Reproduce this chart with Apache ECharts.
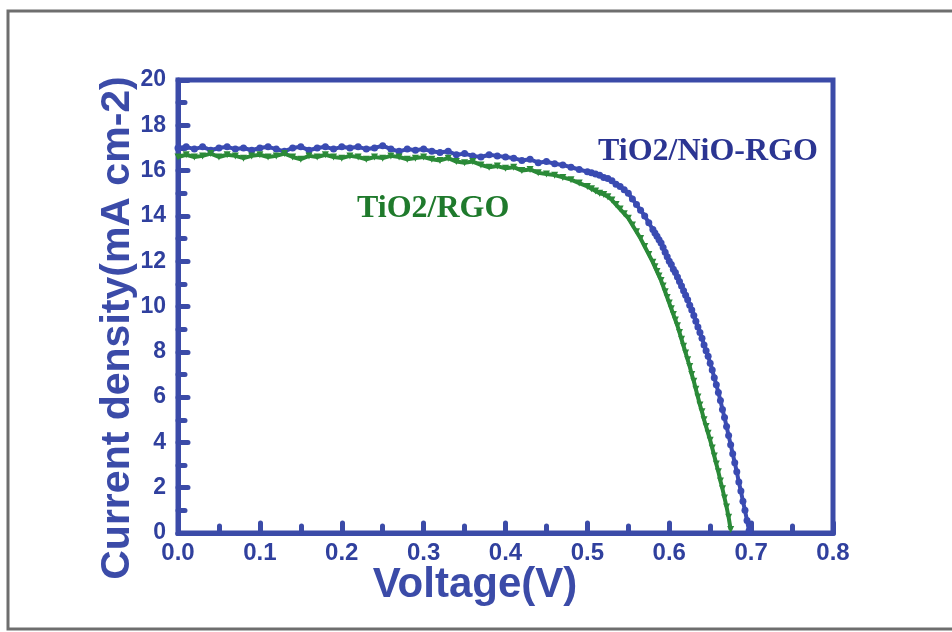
<!DOCTYPE html>
<html>
<head>
<meta charset="utf-8">
<script src="https://cdn.jsdelivr.net/npm/echarts@6/dist/echarts.min.js"></script>
<style>
  html, body { margin: 0; padding: 0; background: #fff; }
  #chart { width: 952px; height: 632px; }
</style>
</head>
<body>
<div id="chart"></div>
<script>
// voltage grid (V) shared by both J-V curves
var voltage = [
  0.00, 0.01, 0.02, 0.03, 0.04, 0.05, 0.06, 0.07, 0.08, 0.09,
  0.10, 0.11, 0.12, 0.13, 0.14, 0.15, 0.16, 0.17, 0.18, 0.19,
  0.20, 0.21, 0.22, 0.23, 0.24, 0.25, 0.26, 0.27, 0.28, 0.29,
  0.30, 0.31, 0.32, 0.33, 0.34, 0.35, 0.36, 0.37, 0.38, 0.39,
  0.40, 0.41, 0.42, 0.43, 0.44, 0.45, 0.46, 0.47, 0.48, 0.49,
  0.500, 0.505, 0.510, 0.515, 0.520, 0.525, 0.530, 0.535, 0.540, 0.545,
  0.550, 0.555, 0.560, 0.565, 0.570, 0.575, 0.580,
  0.5825, 0.5850, 0.5875, 0.5900, 0.5925, 0.5950, 0.5975, 0.6000,
  0.6025, 0.6050, 0.6075, 0.6100, 0.6125, 0.6150, 0.6175, 0.6200,
  0.6225, 0.6250, 0.6275, 0.6300, 0.6325, 0.6350, 0.6375, 0.6400,
  0.6425, 0.6450, 0.6475, 0.6500, 0.6525, 0.6550, 0.6575, 0.6600,
  0.6625, 0.6650, 0.6675, 0.6700, 0.6725, 0.6750, 0.6775, 0.6800,
  0.6825, 0.6850, 0.6875, 0.6900, 0.6925, 0.6950, 0.6975
];

// TiO2/NiO-RGO current density (mA cm-2)
var currentNiO = [
  17.0, 17.05, 16.95, 17.05, 16.9, 17.0, 17.05, 16.95, 17.0, 16.9,
  17.0, 17.05, 16.95, 16.85, 17.0, 17.05, 16.9, 17.0, 17.05, 16.95,
  17.05, 17.0, 17.05, 16.95, 17.0, 17.1, 16.95, 16.85, 16.95, 16.9,
  16.95, 16.85, 16.8, 16.85, 16.7, 16.75, 16.65, 16.6, 16.7, 16.65,
  16.6, 16.55, 16.45, 16.5, 16.35, 16.4, 16.3, 16.25, 16.15, 16.05,
  15.95, 15.9, 15.85, 15.8, 15.7, 15.65, 15.55, 15.4, 15.3, 15.15,
  15.0, 14.75, 14.5, 14.25, 14.0, 13.7, 13.4,
  13.25, 13.1, 12.95, 12.8, 12.6, 12.4, 12.2, 12.0,
  11.85, 11.65, 11.5, 11.3, 11.1, 10.9, 10.7, 10.5,
  10.3, 10.05, 9.85, 9.6, 9.35, 9.1, 8.85, 8.6,
  8.3, 8.05, 7.8, 7.5, 7.2, 6.85, 6.55, 6.2,
  5.85, 5.45, 5.1, 4.7, 4.3, 3.9, 3.5, 3.1,
  2.7, 2.25, 1.85, 1.4, 1.0, 0.55, 0.1
];

// TiO2/RGO current density (mA cm-2), ends at 0.675 V
var currentRGO = [
  16.6, 16.7, 16.6, 16.65, 16.75, 16.6, 16.7, 16.65, 16.55, 16.65,
  16.7, 16.6, 16.65, 16.75, 16.6, 16.5, 16.65, 16.6, 16.7, 16.6,
  16.55, 16.65, 16.6, 16.5, 16.6, 16.55, 16.65, 16.6, 16.5, 16.55,
  16.6, 16.5, 16.45, 16.55, 16.4, 16.35, 16.4, 16.25, 16.15, 16.2,
  16.1, 16.15, 16.0, 16.05, 15.9, 15.85, 15.8, 15.7, 15.6, 15.45,
  15.3, 15.2, 15.1, 15.0, 14.95, 14.85, 14.7, 14.5, 14.3, 14.1,
  13.9, 13.6, 13.3, 13.0, 12.65, 12.3, 11.95,
  11.75, 11.55, 11.35, 11.15, 10.9, 10.65, 10.4, 10.15,
  9.9, 9.65, 9.4, 9.15, 8.85, 8.55, 8.25, 7.95,
  7.65, 7.35, 7.0, 6.7, 6.35, 6.0, 5.65, 5.35,
  5.0, 4.7, 4.4, 4.1, 3.75, 3.4, 3.05, 2.7,
  2.3, 1.95, 1.55, 1.15, 0.7, 0.15
];

var seriesNames = ['TiO2/NiO-RGO', 'TiO2/RGO'];

function pairs(ys) {
  var out = [];
  for (var i = 0; i < ys.length; i++) {
    out.push([voltage[i], ys[i]]);
  }
  return out;
}

var axisBlue = '#3b4ba8';
var labelBlue = '#30409e';

var myChart = echarts.init(document.getElementById('chart'));
myChart.setOption({
  backgroundColor: '#ffffff',
  animation: false,
  grid: {
    left: 178, right: 119, top: 80, bottom: 99,
    show: true,
    borderColor: axisBlue,
    borderWidth: 5
  },
  xAxis: {
    type: 'value',
    min: 0, max: 0.8, interval: 0.1,
    axisLine: { lineStyle: { color: axisBlue, width: 5 } },
    axisTick: { inside: true, length: 10, lineStyle: { color: axisBlue, width: 5, cap: 'round' } },
    minorTick: { show: true, splitNumber: 2, length: 7, lineStyle: { color: axisBlue, width: 5, cap: 'round' } },
    splitLine: { show: false },
    axisLabel: {
      margin: 8,
      color: labelBlue,
      fontFamily: 'Liberation Sans, Arial, sans-serif',
      fontWeight: 'bold',
      fontSize: 24,
      formatter: function (v) { return v.toFixed(1); }
    }
  },
  yAxis: {
    type: 'value',
    min: 0, max: 20, interval: 2,
    axisLine: { lineStyle: { color: axisBlue, width: 5 } },
    axisTick: { inside: true, length: 10, lineStyle: { color: axisBlue, width: 5, cap: 'round' } },
    minorTick: { show: true, splitNumber: 2, length: 7, lineStyle: { color: axisBlue, width: 5, cap: 'round' } },
    splitLine: { show: false },
    axisLabel: {
      margin: 12,
      color: labelBlue,
      fontFamily: 'Liberation Sans, Arial, sans-serif',
      fontWeight: 'bold',
      fontSize: 23
    }
  },
  series: [
    {
      name: seriesNames[0],
      type: 'line',
      data: pairs(currentNiO),
      symbol: 'circle',
      symbolSize: 7,
      color: '#3a4bb2',
      lineStyle: { width: 4 },
      z: 3
    },
    {
      name: seriesNames[1],
      type: 'line',
      data: pairs(currentRGO),
      symbol: 'triangle',
      symbolRotate: 180,
      symbolSize: 7,
      color: '#2b8a38',
      lineStyle: { width: 4 },
      z: 4
    }
  ],
  graphic: [
    {
      type: 'rect',
      shape: { x: 8, y: 11, width: 960, height: 618 },
      style: { fill: 'none', stroke: '#6e6e6e', lineWidth: 3 },
      silent: true
    },
    {
      type: 'text',
      left: 598, top: 136,
      style: {
        text: seriesNames[0],
        fill: '#2b3592',
        font: 'bold 32px "Liberation Serif", "Times New Roman", serif'
      }
    },
    {
      type: 'text',
      left: 357, top: 193,
      style: {
        text: seriesNames[1],
        fill: '#1f7a2c',
        font: 'bold 32px "Liberation Serif", "Times New Roman", serif'
      }
    },
    {
      type: 'text',
      x: 475, y: 585,
      style: {
        text: 'Voltage(V)',
        fill: axisBlue,
        align: 'center',
        verticalAlign: 'middle',
        font: 'bold 42px "Liberation Sans", Arial, sans-serif'
      }
    },
    {
      type: 'text',
      x: 118, y: 328,
      rotation: Math.PI / 2,
      style: {
        text: 'Current density(mA cm-2)',
        fill: axisBlue,
        align: 'center',
        verticalAlign: 'middle',
        font: 'bold 41px "Liberation Sans", Arial, sans-serif'
      }
    }
  ]
});
</script>
</body>
</html>
